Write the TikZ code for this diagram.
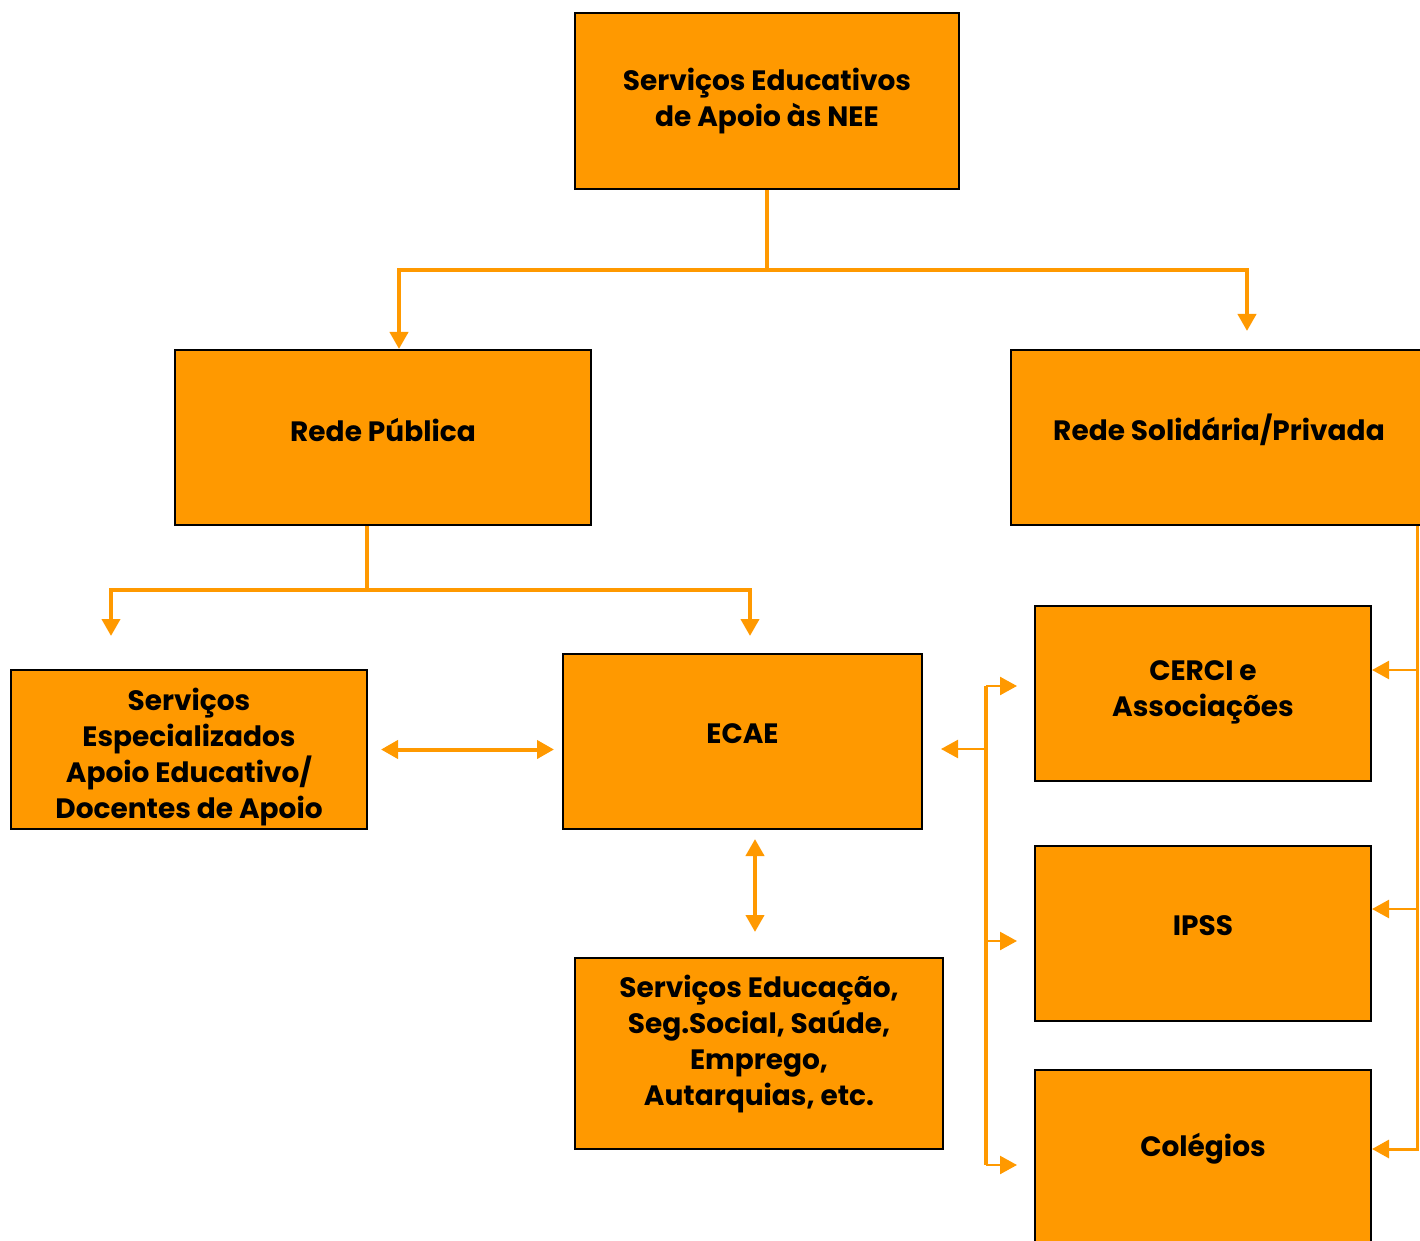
\documentclass[tikz,border=0pt]{standalone}
\usepackage{fontspec}
\setmainfont{Poppins}
\usetikzlibrary{arrows.meta}
\definecolor{laranja}{HTML}{FF9900}
\tikzset{
 caixa/.style={draw=black, line width=1pt, fill=laranja, inner sep=0pt},
 rotulo/.style={align=center, font=\bfseries\fontsize{14}{18}\selectfont},
 ponta/.style={-{Triangle[length=8.5pt,width=9pt]}},
 pontas/.style={{Triangle[length=8.5pt,width=9pt]}-{Triangle[length=8.5pt,width=9pt]}},
 ligacao/.style={draw=laranja, line width=2pt},
 ramo/.style={draw=laranja, line width=1.2pt},
}
\begin{document}
\begin{tikzpicture}[x=0.5pt,y=-0.5pt,line join=miter]
 \useasboundingbox (0,0) rectangle (1420,1241);
 \clip (0,0) rectangle (1420,1241);
 % caixas
 \node[caixa, minimum width=192pt, minimum height=88pt] (topo) at (767,101) {};
 \node[caixa, minimum width=208pt, minimum height=87.5pt] (pub) at (383,437.5) {};
 \node[caixa, minimum width=208pt, minimum height=87.5pt] (pri) at (1219,437.5) {};
 \node[caixa, minimum width=178pt, minimum height=79.5pt] (esp) at (189,749.5) {};
 \node[caixa, minimum width=179.5pt, minimum height=87.5pt] (ecae) at (742.5,741.5) {};
 \node[caixa, minimum width=184pt, minimum height=95.5pt] (soc) at (759,1053.5) {};
 \node[caixa, minimum width=168pt, minimum height=87.5pt] (cerci) at (1203,693.5) {};
 \node[caixa, minimum width=168pt, minimum height=87.5pt] (ipss) at (1203,933.5) {};
 \node[caixa, minimum width=168pt, minimum height=87.5pt] (col) at (1203,1157.5) {};
 % textos
 \node[rotulo] (topo-t) at ([yshift=0pt]topo.center) {Serviços Educativos\\de Apoio às NEE};
 \node[rotulo] (pub-t) at ([yshift=4pt]pub.center) {Rede Pública};
 \node[rotulo] (pri-t) at ([yshift=4pt]pri.center) {Rede Solidária/Privada};
 \node[rotulo] (esp-t) at ([yshift=-3.75pt]esp.center) {Serviços\\Especializados\\Apoio Educativo/\\Docentes de Apoio};
 \node[rotulo] (ecae-t) at ([yshift=4pt]ecae.center) {ECAE};
 \node[rotulo] (soc-t) at ([yshift=4.5pt]soc.center) {Serviços Educação,\\Seg.Social, Saúde,\\Emprego,\\Autarquias, etc.};
 \node[rotulo] (cerci-t) at ([yshift=0.5pt]cerci.center) {CERCI e\\Associações};
 \node[rotulo] (ipss-t) at ([yshift=4pt]ipss.center) {IPSS};
 \node[rotulo] (col-t) at ([yshift=4.25pt]col.center) {Colégios};
 % ligacoes de cima
 \draw[ligacao] (topo.south) -- ++(0,80) coordinate (tj);
 \draw[ligacao,ponta] (tj) -| ([xshift=8pt]pub.north);
 \draw[ligacao,ponta] (tj) -| ([xshift=14pt,yshift=9pt]pri.north);
 \draw[ligacao] ([xshift=-8pt]pub.south) -- ++(0,64) coordinate (pj);
 \draw[ligacao,ponta] (pj) -| ([xshift=-39pt,yshift=16.5pt]esp.north);
 \draw[ligacao,ponta] (pj) -| ([xshift=3.75pt,yshift=8.5pt]ecae.north);
 % setas duplas
 \draw[ligacao,pontas] ([xshift=6.5pt]esp.east) -- ([xshift=-4pt]esp.east -| ecae.west);
 \draw[ligacao,pontas] ([xshift=6.25pt,yshift=-4.5pt]ecae.south) -- ([xshift=-2pt,yshift=12.5pt]soc.north);
 % rede privada
 \coordinate (rj) at ([xshift=99pt]pri.south);
 \draw[draw=laranja, line width=1.5pt, ponta] (rj) |- ([yshift=4.25pt]col.east);
 \draw[ramo,ponta] ([yshift=11.75pt]cerci.east -| rj) -- ([yshift=11.75pt]cerci.east);
 \draw[ramo,ponta] ([yshift=12.25pt]ipss.east -| rj) -- ([yshift=12.25pt]ipss.east);
 % chaveta da esquerda
 \coordinate (bt) at ([xshift=-24pt,yshift=3.75pt]cerci.west);
 \coordinate (bb) at ([xshift=-24pt,yshift=-3.75pt]col.west);
 \draw[ligacao] (bt) -- (bb);
 \draw[ramo,ponta] (bt) -- ([xshift=-8.5pt]bt -| cerci.west);
 \draw[ramo,ponta] ([yshift=-3.75pt]ipss.west -| bt) -- ([xshift=-8.5pt,yshift=-3.75pt]ipss.west);
 \draw[ramo,ponta] (bb) -- ([xshift=-8.5pt]bb -| col.west);
 \draw[ramo,ponta] ([yshift=-3.75pt]ecae.east -| bt) -- ([xshift=9pt,yshift=-3.75pt]ecae.east);
\end{tikzpicture}
\end{document}
